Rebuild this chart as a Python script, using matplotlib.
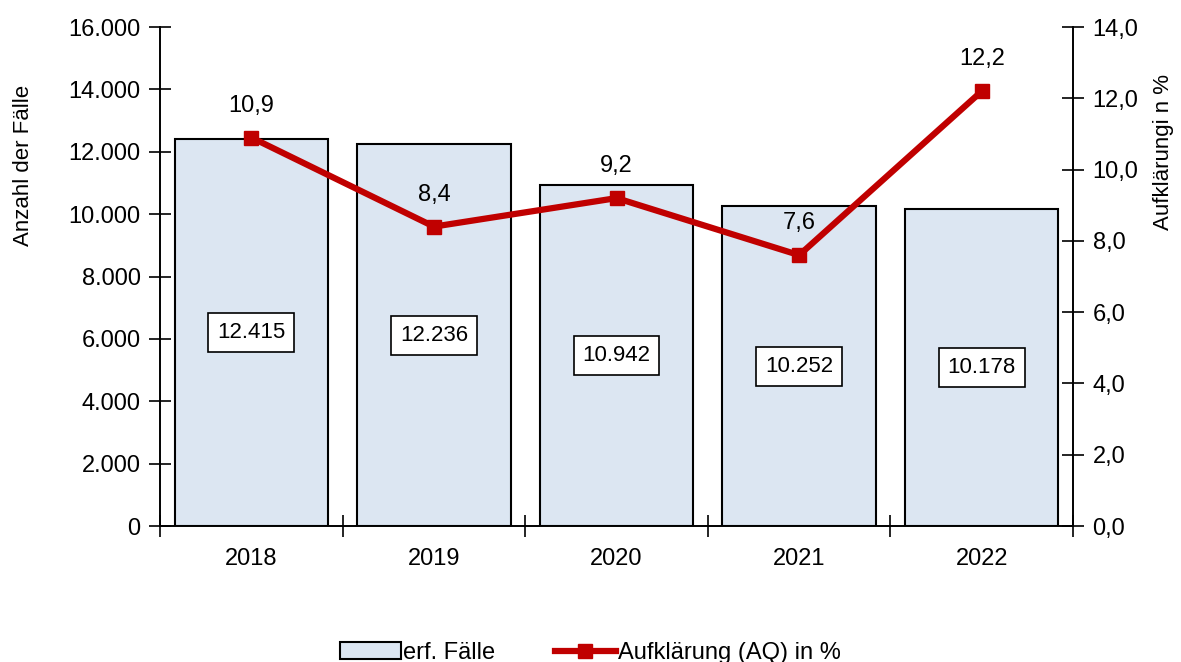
import matplotlib
matplotlib.use("Agg")
import matplotlib.pyplot as plt
from matplotlib.lines import Line2D
from matplotlib.patches import Patch

plt.rcParams['font.family'] = ['Liberation Sans Narrow', 'Liberation Sans', 'DejaVu Sans']

years = ['2018', '2019', '2020', '2021', '2022']
faelle = [12415, 12236, 10942, 10252, 10178]
aq = [10.9, 8.4, 9.2, 7.6, 12.2]
faelle_labels = ['12.415', '12.236', '10.942', '10.252', '10.178']
aq_labels = ['10,9', '8,4', '9,2', '7,6', '12,2']

bar_color = '#DCE6F2'
line_color = '#C00000'
fs = 17

fig = plt.figure(figsize=(11.81, 6.62), dpi=100)
ax = fig.add_axes([0.1355, 0.2054, 0.7731, 0.7538])
ax2 = ax.twinx()

x = list(range(len(years)))
ax.bar(x, faelle, width=0.84, color=bar_color, edgecolor='black', linewidth=1.5, zorder=2)
for xi, v, lab in zip(x, faelle, faelle_labels):
    ax.text(xi, v / 2, lab, ha='center', va='center', fontsize=fs - 1,
            bbox=dict(boxstyle='square,pad=0.4', fc='white', ec='black', lw=1.2), zorder=3)

ax.set_xlim(-0.5, len(years) - 0.5)
ax.set_ylim(0, 16000)
ax.set_yticks(range(0, 16001, 2000))
ax.set_yticklabels([f'{v:,}'.replace(',', '.') for v in range(0, 16001, 2000)], fontsize=fs)
ax.set_xticks(x)
ax.set_xticklabels(years, fontsize=fs)
ax.tick_params(axis='x', length=0, pad=16)
# category separators on the x axis
ax.set_xticks([i + 0.5 for i in range(-1, len(years))], minor=True)
ax.tick_params(axis='x', which='minor', direction='inout', length=16, width=1.2)
ax.tick_params(axis='y', direction='inout', length=16, width=1.2, pad=6)
ax.set_ylabel('Anzahl der Fälle', fontsize=fs - 1)
ax.yaxis.set_label_coords(-0.138, 0.723)

ax2.plot(x, aq, color=line_color, linewidth=4.5, marker='s', markersize=10, zorder=4)
for xi, v, lab in zip(x, aq, aq_labels):
    ax2.annotate(lab, (xi, v), xytext=(0, 15), textcoords='offset points',
                 ha='center', va='bottom', fontsize=fs)
ax2.set_ylim(0, 14)
ax2.set_yticks([i * 2 for i in range(8)])
ax2.set_yticklabels([f'{i * 2:.1f}'.replace('.', ',') for i in range(8)], fontsize=fs)
ax2.tick_params(axis='y', direction='inout', length=16, width=1.2, pad=6)
ax2.set_ylabel('Aufklärungi n %', fontsize=fs - 1)
ax2.yaxis.set_label_coords(1.088, 0.75)

for a in (ax, ax2):
    a.spines['top'].set_visible(False)
    for s in ('left', 'right', 'bottom'):
        a.spines[s].set_linewidth(1.2)
ax2.set_zorder(ax.get_zorder() + 1)
ax2.patch.set_visible(False)

handles = [Patch(facecolor=bar_color, edgecolor='black', linewidth=1.5),
           Line2D([], [], color=line_color, linewidth=4.5, marker='s', markersize=10)]
fig.legend(handles, ['erf. Fälle', 'Aufklärung (AQ) in %'], loc='lower center',
           bbox_to_anchor=(0.5, -0.035), ncol=2, frameon=False, fontsize=fs,
           handlelength=2.6, handletextpad=0.1, columnspacing=2.5)

fig.savefig('out.png', dpi=100)
